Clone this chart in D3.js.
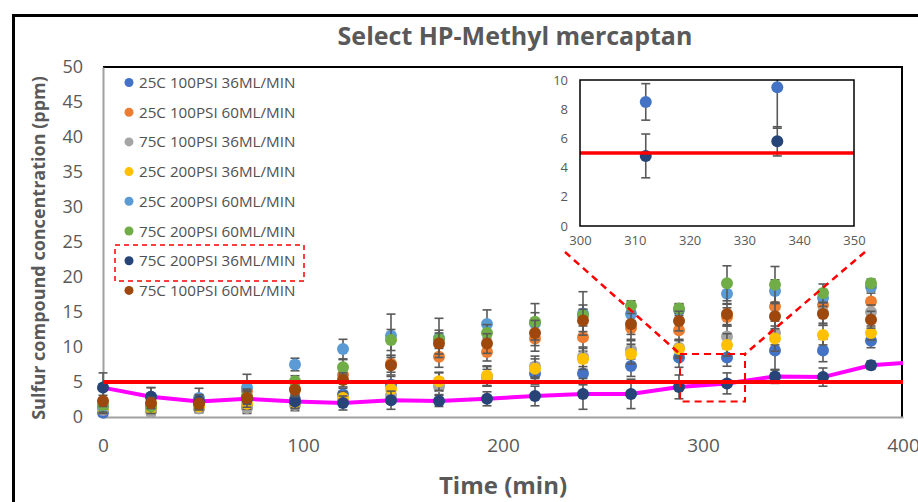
<!DOCTYPE html>
<html><head><meta charset="utf-8">
<script src="https://cdn.jsdelivr.net/npm/d3@7"></script>
<style>body{margin:0;background:#fff}svg{display:block}</style>
</head><body>
<svg id="c" width="918" height="502"></svg>
<script>
const times = [0,24,48,72,96,120,144,168,192,216,240,264,288,312,336,360,384];
const seriesNames = ["25C 100PSI 36ML/MIN","25C 100PSI 60ML/MIN","75C 100PSI 36ML/MIN","25C 200PSI 36ML/MIN","25C 200PSI 60ML/MIN","75C 200PSI 60ML/MIN","75C 200PSI 36ML/MIN","75C 100PSI 60ML/MIN"];
const seriesColors = ["#4472C4","#ED7D31","#A5A5A5","#FFC000","#5B9BD5","#70AD47","#264478","#9E480E"];
const s25_100_36 = [0.6,1.0,1.3,1.5,2.5,3.2,4.6,5.0,5.8,6.2,6.2,7.3,8.5,8.5,9.5,9.5,10.9];
const s25_100_60 = [1.2,1.5,2.0,3.7,4.0,6.0,7.6,8.6,9.3,11.2,11.4,12.7,12.4,14.3,15.8,16.0,16.5];
const s75_100_36 = [1.0,0.8,1.2,1.3,1.7,2.5,3.1,4.4,5.6,7.2,8.6,9.6,9.9,11.5,12.0,14.9,15.0];
const s25_200_36 = [1.3,1.3,1.5,1.9,2.1,2.7,4.0,5.1,5.9,6.9,8.3,9.0,9.7,10.3,11.2,11.7,12.0];
const s25_200_60 = [1.5,2.9,2.7,4.2,7.5,9.7,11.6,11.3,13.3,13.4,14.8,14.7,15.3,17.6,18.0,17.0,18.6];
const s75_200_60 = [1.7,1.5,2.0,3.0,5.1,7.1,11.0,11.1,12.0,13.6,14.5,15.9,15.5,19.1,18.9,17.7,19.1];
const s75_200_36 = [4.2,2.9,2.2,2.6,2.2,2.0,2.4,2.3,2.6,3.0,3.3,3.3,4.3,4.8,5.8,5.7,7.4];
const s75_100_60 = [2.3,2.0,1.9,2.7,3.9,5.3,7.4,10.5,10.5,12.0,13.8,13.3,13.7,14.7,14.4,14.7,13.9];
const e25_100_36 = [0.5,0.6,0.6,0.8,0.8,0.9,1.2,1.3,1.4,1.5,1.6,1.5,1.4,1.25,2.8,1.6,1.0];
const e25_100_60 = [0.8,0.8,0.8,1.0,1.0,1.0,1.2,1.5,1.3,1.8,2.0,1.6,1.5,1.3,1.8,1.5,1.2];
const e75_100_36 = [0.6,0.6,0.6,0.8,0.8,0.8,1.0,1.2,1.2,1.5,1.4,1.3,1.2,1.5,1.7,1.5,1.0];
const e25_200_36 = [0.6,0.6,0.6,0.8,0.8,0.9,1.2,1.3,1.4,1.4,1.5,1.4,1.3,1.6,1.8,1.4,1.0];
const e25_200_60 = [1.0,1.3,1.4,1.9,0.9,1.4,3.1,2.8,2.0,1.5,3.1,1.0,0.8,1.5,1.6,1.2,0.6];
const e75_200_60 = [1.0,1.0,1.0,1.0,0.8,1.1,1.5,1.3,1.2,2.6,1.5,0.7,0.7,2.5,2.6,1.3,0.6];
const e75_200_36 = [2.1,1.3,1.0,1.2,1.0,1.0,1.3,0.8,1.0,1.4,2.2,2.1,1.7,1.5,1.0,1.3,0.6];
const e75_100_60 = [0.8,0.8,0.8,0.9,1.0,1.0,1.4,1.5,1.4,1.8,1.6,1.5,1.4,1.5,1.8,1.6,1.2];
const trendTimes = [0,24,48,72,96,120,144,168,192,216,240,264,288,312,336,360,384,400];
const trendValues = [4.2,2.9,2.2,2.6,2.2,2.0,2.4,2.3,2.6,3.0,3.3,3.3,4.3,4.8,5.8,5.7,7.4,7.7];
const limitValue = 5;
const yTicks = [0,5,10,15,20,25,30,35,40,45,50];
const xTicks = [0,100,200,300,400];
const insetXTicks = [300,310,320,330,340,350];
const insetYTicks = [0,2,4,6,8,10];
const insetSeries = [0,6];

const values = [s25_100_36,s25_100_60,s75_100_36,s25_200_36,s25_200_60,s75_200_60,s75_200_36,s75_100_60];
const errors = [e25_100_36,e25_100_60,e75_100_36,e25_200_36,e25_200_60,e75_200_60,e75_200_36,e75_100_60];
const series = seriesNames.map((n,i)=>({name:n,color:seriesColors[i],pts:times.map((t,j)=>({t,v:values[i][j],e:errors[i][j]}))}));

const svg = d3.select("#c");
const FONT = "'Open Sans', sans-serif";
const TXT = "#595959";

svg.append("rect").attr("x",13.5).attr("y",15.5).attr("width",1000).attr("height",600)
  .attr("fill","none").attr("stroke","#000").attr("stroke-width",3);

const x = d3.scaleLinear().domain([0,400]).range([103,903]);
const y = d3.scaleLinear().domain([0,50]).range([417,67]);

// plot frame
svg.append("line").attr("x1",103).attr("x2",903).attr("y1",67).attr("y2",67).attr("stroke","#000").attr("stroke-width",2);
svg.append("line").attr("x1",902).attr("x2",902).attr("y1",67).attr("y2",418).attr("stroke","#000").attr("stroke-width",2);

// axes
const gy = svg.append("g").attr("transform","translate(103,0)")
  .call(d3.axisLeft(y).tickValues(yTicks).tickSize(0).tickPadding(20));
const gx = svg.append("g").attr("transform","translate(0,417)")
  .call(d3.axisBottom(x).tickValues(xTicks).tickSize(0).tickPadding(22));
[gx,gy].forEach(g=>{
  g.select(".domain").attr("stroke","#A0A0A0").attr("stroke-width",2);
  g.selectAll("text").attr("font-family",FONT).attr("font-size",19).attr("fill",TXT);
});
gy.selectAll("text").attr("font-size",18);

// titles
svg.append("text").attr("x",515).attr("y",45).attr("text-anchor","middle")
  .attr("font-family",FONT).attr("font-weight",700).attr("font-size",25).attr("fill",TXT)
  .text("Select HP-Methyl mercaptan");
svg.append("text").attr("x",503).attr("y",494).attr("text-anchor","middle")
  .attr("font-family",FONT).attr("font-weight",700).attr("font-size",24).attr("fill",TXT)
  .text("Time (min)");
svg.append("text").attr("transform","translate(45,248) rotate(-90)").attr("text-anchor","middle")
  .attr("font-family",FONT).attr("font-weight",700).attr("font-size",18).attr("fill",TXT)
  .text("Sulfur compound concentration (ppm)");

function drawSeries(g, xs, ys, list, r, cap) {
  list.forEach((s,i)=>{
    const sg = g.append("g");
    const eb = sg.selectAll("g.eb").data(s.pts).join("g");
    eb.append("line").attr("x1",d=>xs(d.t)).attr("x2",d=>xs(d.t))
      .attr("y1",d=>ys(d.v-d.e)).attr("y2",d=>ys(d.v+d.e)).attr("stroke","#595959").attr("stroke-width",1.6);
    [-1,1].forEach(sg2=>{
      eb.append("line").attr("x1",d=>xs(d.t)-cap).attr("x2",d=>xs(d.t)+cap)
        .attr("y1",d=>ys(d.v+sg2*d.e)).attr("y2",d=>ys(d.v+sg2*d.e)).attr("stroke","#595959").attr("stroke-width",1.6);
    });
    sg.selectAll("circle").data(s.pts).join("circle")
      .attr("cx",d=>xs(d.t)).attr("cy",d=>ys(d.v)).attr("r",r).attr("fill",s.color);
  });
}

const main = svg.append("g");
const line = d3.line().x((d,i)=>x(trendTimes[i])).y(d=>y(d));
drawSeries(main, x, y, series.slice(0,6), 6, 4.5);
main.append("path").attr("d",line(trendValues)).attr("fill","none").attr("stroke","#FF00FF").attr("stroke-width",4);
drawSeries(main, x, y, series.slice(6), 6, 4.5);
main.append("line").attr("x1",x(0)).attr("x2",x(400)).attr("y1",y(limitValue)).attr("y2",y(limitValue))
  .attr("stroke","#FF0000").attr("stroke-width",4);

// zoom rectangle & connectors
const dash = "7,5";
svg.append("rect").attr("x",x(288.5)).attr("y",y(9)).attr("width",x(321)-x(288.5)).attr("height",y(2.2)-y(9))
  .attr("fill","none").attr("stroke","#FF0000").attr("stroke-width",2).attr("stroke-dasharray",dash);
svg.append("line").attr("x1",565).attr("y1",252).attr("x2",x(288.5)).attr("y2",y(9))
  .attr("stroke","#FF0000").attr("stroke-width",2.5).attr("stroke-dasharray",dash);
svg.append("line").attr("x1",865).attr("y1",252).attr("x2",x(321)).attr("y2",y(9))
  .attr("stroke","#FF0000").attr("stroke-width",2.5).attr("stroke-dasharray",dash);

// legend
const lg = svg.append("g");
seriesNames.forEach((n,i)=>{
  const yy = 82.5 + i*29.7;
  lg.append("circle").attr("cx",129).attr("cy",yy).attr("r",4.5).attr("fill",seriesColors[i]);
  lg.append("text").attr("x",139).attr("y",yy+5.5).attr("font-family",FONT).attr("font-size",15.2).attr("fill","#505050").text(n);
});
lg.append("rect").attr("x",115).attr("y",245).attr("width",189).attr("height",36)
  .attr("fill","none").attr("stroke","#FF0000").attr("stroke-width",1.5).attr("stroke-dasharray","5,4");

// inset
const ix = d3.scaleLinear().domain([300,350]).range([580,854]);
const iy = d3.scaleLinear().domain([0,10]).range([226,80]);
const ins = svg.append("g");
ins.append("rect").attr("x",540).attr("y",70).attr("width",335).attr("height",178).attr("fill","#fff");
svg.append("defs").append("clipPath").attr("id","iclip").append("rect")
  .attr("x",580).attr("y",80).attr("width",274).attr("height",146);
const iax = ins.append("g").attr("transform","translate(0,226)")
  .call(d3.axisBottom(ix).tickValues(insetXTicks).tickSize(0).tickPadding(10));
const iay = ins.append("g").attr("transform","translate(580,0)")
  .call(d3.axisLeft(iy).tickValues(insetYTicks).tickSize(0).tickPadding(12));
[iax,iay].forEach(g=>{
  g.select(".domain").remove();
  g.selectAll("text").attr("font-family",FONT).attr("font-size",13).attr("fill",TXT);
});
const ip = ins.append("g").attr("clip-path","url(#iclip)");
drawSeries(ip, ix, iy, insetSeries.map(i=>series[i]), 6, 4.5);
ip.append("line").attr("x1",ix(300)).attr("x2",ix(350)).attr("y1",iy(limitValue)).attr("y2",iy(limitValue))
  .attr("stroke","#FF0000").attr("stroke-width",3.5);
ins.append("rect").attr("x",580).attr("y",80).attr("width",274).attr("height",146)
  .attr("fill","none").attr("stroke","#000").attr("stroke-width",1.5);
</script>
</body></html>
